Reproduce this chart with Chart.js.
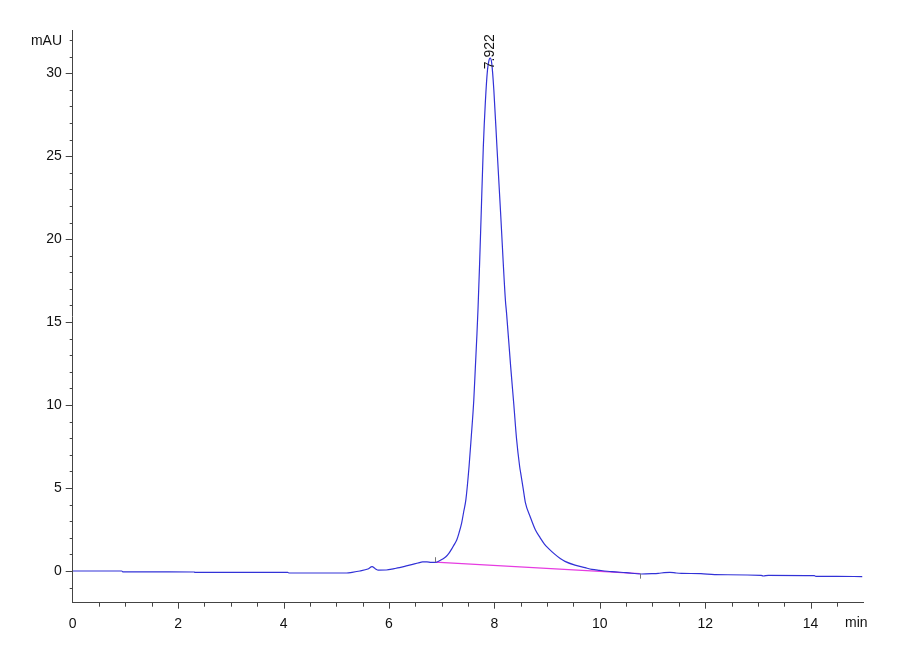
<!DOCTYPE html>
<html>
<head>
<meta charset="utf-8">
<script src="https://cdn.jsdelivr.net/npm/chart.js@4"></script>
<style>
  html, body { margin: 0; padding: 0; background: #fff; }
  #wrap { width: 900px; height: 660px; }
</style>
</head>
<body>
<div id="wrap"><canvas id="myChart" width="900" height="660"></canvas></div>
<script>
// retention time (min) and detector signal (mAU)
const time = [
  0, 0.93, 0.95, 2.3, 2.32, 4.08, 4.1, 5.2, 5.3, 5.45, 5.6, 5.68, 5.74, 5.8, 5.95,
  6.1, 6.2, 6.35, 6.45, 6.55, 6.64, 6.72, 6.8, 6.88, 6.95, 7.02, 7.08, 7.14, 7.2,
  7.25, 7.29, 7.33, 7.38, 7.42, 7.46, 7.52, 7.56, 7.61, 7.64, 7.67, 7.69, 7.72,
  7.75, 7.79, 7.83, 7.87, 7.9, 7.922, 7.95, 7.99, 8.05, 8.12, 8.21, 8.23, 8.31,
  8.37, 8.42, 8.48, 8.5, 8.55, 8.59, 8.68, 8.78, 8.87, 8.95, 9.03, 9.15, 9.25,
  9.34, 9.53, 9.72, 9.85, 10.0, 10.23, 10.5, 10.79, 11.0, 11.11, 11.22, 11.33,
  11.45, 11.55, 11.92, 12.18, 13.06, 13.1, 13.2, 14.07, 14.1, 14.5, 14.98
];
const signal = [
  0, 0, -0.05, -0.06, -0.08, -0.08, -0.12, -0.12, -0.08, 0, 0.12, 0.26, 0.14, 0.05, 0.06,
  0.14, 0.2, 0.32, 0.4, 0.48, 0.55, 0.55, 0.52, 0.52, 0.6, 0.72, 0.86, 1.08, 1.38,
  1.65, 1.9, 2.3, 2.9, 3.6, 4.3, 6.3, 8.0, 10.3, 12.3, 14.3, 15.8, 18.5,
  21.5, 25.5, 28.3, 30.2, 30.8, 30.9, 30.6, 29.0, 25.5, 21.5, 16.3, 15.6, 12.3,
  10.0, 8.0, 6.3, 5.9, 4.9, 4.1, 3.27, 2.47, 2.0, 1.62, 1.35, 1.0, 0.75,
  0.58, 0.35, 0.2, 0.1, 0.04, -0.04, -0.1, -0.18, -0.16, -0.14, -0.1, -0.08,
  -0.12, -0.14, -0.16, -0.22, -0.26, -0.3, -0.26, -0.28, -0.32, -0.32, -0.34
];

// integration baseline drawn under the peak
const baseTime = [6.88, 10.76];
const baseSignal = [0.53, -0.16];

// peak annotation
const peakTimes = [7.922];
const peakHeights = [30.9];
const peakLabels = ['7.922'];

const xMajor = [0, 2, 4, 6, 8, 10, 12, 14];
const yMajor = [0, 5, 10, 15, 20, 25, 30];

const FONT = "'Liberation Sans Narrow', 'Arial Narrow', 'Liberation Sans', Arial, sans-serif";
const AXIS = '#444';

const toPoints = (xs, ys) => xs.map((x, i) => ({ x: x, y: ys[i] }));

// tick marks, axis units and peak labels
const decorations = {
  id: 'decorations',
  afterDraw(chart) {
    const ctx = chart.ctx;
    const xs = chart.scales.x;
    const ys = chart.scales.y;
    const left = xs.left;
    const bottom = ys.bottom;
    ctx.save();
    ctx.strokeStyle = AXIS;
    ctx.lineWidth = 1;

    // y ticks every 1 mAU, longer every 5
    for (let v = -1; v <= 32; v++) {
      const py = Math.round(ys.getPixelForValue(v)) + 0.5;
      const len = v % 5 === 0 ? 7 : 3;
      ctx.beginPath();
      ctx.moveTo(left - len, py);
      ctx.lineTo(left, py);
      ctx.stroke();
    }
    // x ticks every 0.5 min
    for (let k = 1; k <= 29; k++) {
      const v = k * 0.5;
      const px = Math.round(xs.getPixelForValue(v)) + 0.5;
      const len = v % 2 === 0 ? 6 : 4;
      ctx.beginPath();
      ctx.moveTo(px, bottom);
      ctx.lineTo(px, bottom + len);
      ctx.stroke();
    }

    // baseline start / end markers
    ctx.strokeStyle = '#777';
    const bx0 = Math.round(xs.getPixelForValue(baseTime[0])) + 0.5;
    const by0 = ys.getPixelForValue(baseSignal[0]);
    ctx.beginPath(); ctx.moveTo(bx0, by0); ctx.lineTo(bx0, by0 - 5); ctx.stroke();
    const bx1 = Math.round(xs.getPixelForValue(baseTime[1])) + 0.5;
    const by1 = ys.getPixelForValue(baseSignal[1]);
    ctx.beginPath(); ctx.moveTo(bx1, by1); ctx.lineTo(bx1, by1 + 5); ctx.stroke();

    // units
    ctx.fillStyle = '#111';
    ctx.font = '14px ' + FONT;
    ctx.textBaseline = 'middle';
    ctx.textAlign = 'right';
    ctx.fillText('mAU', 62, 41);
    ctx.textAlign = 'left';
    ctx.fillText('min', 845, 623);

    // retention time labels, rotated
    peakTimes.forEach((t, i) => {
      const px = xs.getPixelForValue(t);
      const py = ys.getPixelForValue(peakHeights[i]);
      ctx.save();
      ctx.translate(px, py + 11);
      ctx.rotate(-Math.PI / 2);
      ctx.textAlign = 'left';
      ctx.textBaseline = 'middle';
      ctx.fillText(peakLabels[i], 0, 0);
      ctx.restore();
    });
    ctx.restore();
  }
};

new Chart(document.getElementById('myChart'), {
  type: 'scatter',
  data: {
    datasets: [
      {
        label: 'Signal',
        data: toPoints(time, signal),
        showLine: true,
        borderColor: 'rgb(50, 50, 215)',
        borderWidth: 1.2,
        pointRadius: 0,
        cubicInterpolationMode: 'monotone'
      },
      {
        label: 'Baseline',
        data: toPoints(baseTime, baseSignal),
        showLine: true,
        borderColor: 'rgb(230, 60, 225)',
        borderWidth: 1.2,
        pointRadius: 0
      }
    ]
  },
  options: {
    responsive: false,
    animation: false,
    events: [],
    layout: { padding: { left: 0, right: 36.7, top: 30, bottom: 0 } },
    plugins: {
      legend: { display: false },
      tooltip: { enabled: false }
    },
    scales: {
      x: {
        type: 'linear',
        min: 0,
        max: 15,
        grid: { display: false, drawTicks: false },
        border: { display: true, color: AXIS, width: 1 },
        afterFit: (scale) => { scale.height = 57.3; },
        ticks: {
          stepSize: 2,
          includeBounds: false,
          autoSkip: false,
          maxRotation: 0,
          padding: 13,
          color: '#111',
          font: { family: FONT, size: 14 },
          callback: (v) => xMajor.includes(v) ? String(v) : ''
        }
      },
      y: {
        type: 'linear',
        min: -1.91,
        max: 32.6,
        grid: { display: false, drawTicks: false },
        border: { display: true, color: AXIS, width: 1 },
        afterFit: (scale) => { scale.width = 72.7; },
        ticks: {
          stepSize: 5,
          includeBounds: false,
          autoSkip: false,
          padding: 11,
          color: '#111',
          font: { family: FONT, size: 14 },
          callback: (v) => yMajor.includes(v) ? String(v) : ''
        }
      }
    }
  },
  plugins: [decorations]
});
</script>
</body>
</html>
